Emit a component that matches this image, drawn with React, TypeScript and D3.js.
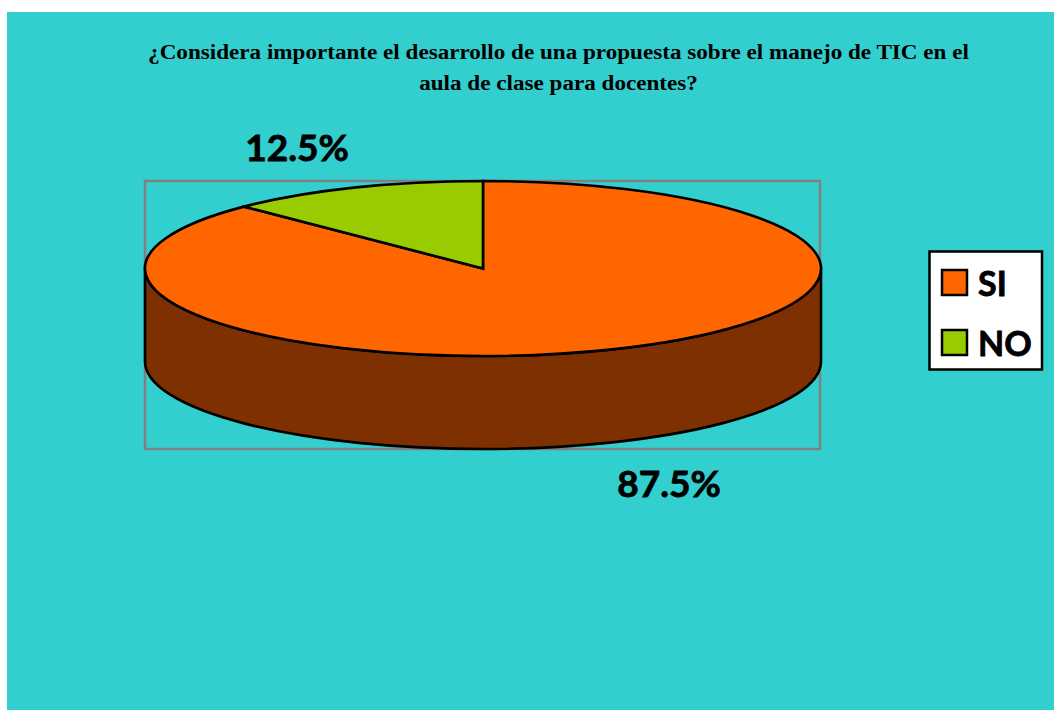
import React from 'react';
import * as d3 from 'd3';

const width = 1054;
const height = 710;

const titleLines = [
  '¿Considera importante el desarrollo de una propuesta sobre el manejo de TIC en el',
  'aula de clase para docentes?',
];
const categories = ['SI', 'NO'];
const values = [87.5, 12.5];
const sliceColors = ['#ff6600', '#99cc00'];
const wallColor = '#7f3000';

const cx = 483;
const cy = 268.5;
const rx = 338;
const ry = 87.5;
const depth = 93;
const titleCenter = 558.5;

const App = () => {
  const slices = d3.pie<number>().sort(null)(values);
  const arc = d3.arc<d3.PieArcDatum<number>>().innerRadius(0).outerRadius(rx);

  // label percent format, one decimal
  const fmt = d3.format('.1f');

  const wall = `M${cx - rx},${cy} A${rx},${ry} 0 0 0 ${cx + rx},${cy} L${cx + rx},${cy + depth} A${rx},${ry} 0 0 1 ${cx - rx},${cy + depth} Z`;

  return (
    <svg
      width={width}
      height={height}
      viewBox={`0 0 ${width} ${height}`}
      style={{ position: 'absolute', left: 0, top: 0 }}
    >
      <rect x={0} y={0} width={width} height={height} fill="#ffffff" />
      <rect x={7} y={12} width={width - 7} height={height - 12} fill="#33cfcf" />

      {/* the title is stretched sideways in the original */}
      <g
        transform={`translate(${titleCenter},0) scale(1.128,1)`}
        fontFamily="'Liberation Serif', serif"
        fontWeight="bold"
        fontSize={20.5}
        textAnchor="middle"
        fill="#000"
      >
        {titleLines.map((line, i) => (
          <text key={i} x={0} y={59 + i * 31}>{line}</text>
        ))}
      </g>

      <rect x={145} y={181} width={675} height={268} fill="none" stroke="#808080" strokeWidth={2.5} />

      <path d={wall} fill={wallColor} stroke="#000" strokeWidth={2.6} />

      <g transform={`translate(${cx},${cy}) scale(1,${ry / rx})`}>
        {slices.map((s, i) => (
          <path
            key={categories[i]}
            d={arc(s) as string}
            fill={sliceColors[i]}
            stroke="#000"
            strokeWidth={2.6}
            vectorEffect="non-scaling-stroke"
          />
        ))}
      </g>

      <g
        fontFamily="Lato, 'Open Sans', sans-serif"
        fontWeight="bold"
        fontSize={37}
        fill="#000"
        stroke="#000"
        strokeWidth={0.8}
        textAnchor="middle"
      >
        <text x={669} y={497}>{fmt(values[0])}%</text>
        <text x={297} y={161}>{fmt(values[1])}%</text>
      </g>

      <rect x={929.5} y={251.5} width={112.5} height={118} fill="#ffffff" stroke="#000" strokeWidth={2.5} />
      {categories.map((c, i) => (
        <g key={c}>
          <rect x={942} y={270 + i * 60} width={25} height={25} fill={sliceColors[i]} stroke="#000" strokeWidth={2.5} />
          <text
            x={978}
            y={296 + i * 59.5}
            fontFamily="Lato, 'Open Sans', sans-serif"
            fontWeight="bold"
            fontSize={34}
            fill="#000"
            stroke="#000"
            strokeWidth={0.8}
          >
            {c}
          </text>
        </g>
      ))}
    </svg>
  );
};

export default App;
